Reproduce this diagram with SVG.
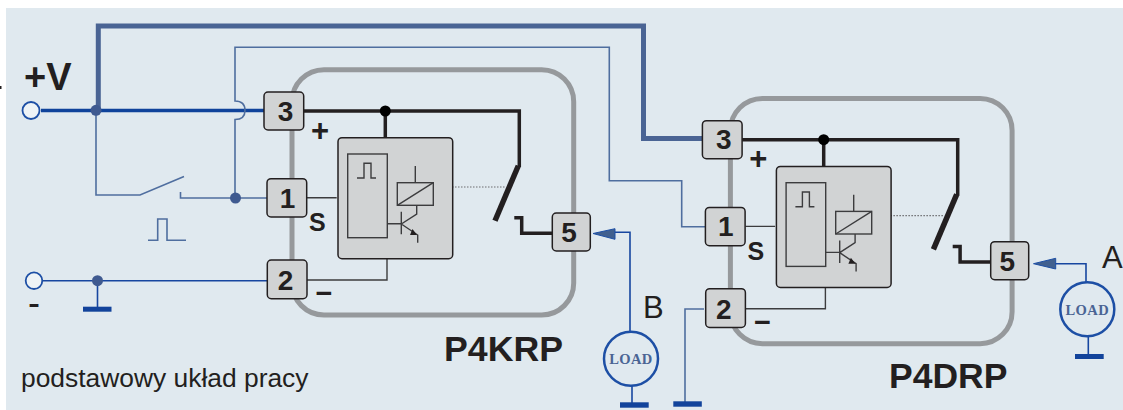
<svg xmlns="http://www.w3.org/2000/svg" width="1123" height="410" viewBox="0 0 1123 410">
<style>
text{font-family:"Liberation Sans",Arial,sans-serif;fill:#231f20}
.b{font-weight:bold}
.n{font-weight:bold;font-size:28px;text-anchor:middle}
.load{font-family:"Liberation Serif","Times New Roman",serif;font-weight:bold;font-size:14.5px;fill:#4a6494;text-anchor:middle;letter-spacing:.4px}
.frame{fill:none;stroke:#96999c;stroke-width:5}
.term{fill:#d1d3d4;stroke:#231f20;stroke-width:1.5}
.inner{fill:#d1d3d4;stroke:#231f20;stroke-width:1.5}
.k{fill:none;stroke:#231f20;stroke-width:3.5}
.t{fill:none;stroke:#3c3c3e;stroke-width:1.4}
.w{fill:none;stroke:#1746a0;stroke-width:1.6}
.s{fill:none;stroke:#4f6e9f;stroke-width:1.6}
.bar{fill:#12439b}
.dot{fill:#3f5a90}
.open{fill:#eef3f6;stroke:#1d4fa5;stroke-width:1.8}
.lc{fill:none;stroke:#1d4fa5;stroke-width:2.5}
.ah{fill:#41608f;stroke:#1d4fa5;stroke-width:1}
</style>
<rect x="6" y="8" width="1117" height="402" fill="#e0e9ef"/>
<rect x="0" y="86" width="1.500" height="3" fill="#231f20"/>
<g id="connectors">
<path d="M98.300 110V26H643.500V138.500H703" fill="none" stroke="#4a6494" stroke-width="5"/>
<path d="M41 110.500H264" fill="none" stroke="#0f439b" stroke-width="3.500"/>
<path class="s" d="M96 110V195H140L184 176.500"/>
<path class="s" d="M180.500 192V198H267"/>
<path class="s" d="M235 198V119.500C243 119.500 245 115 245 110.500C245 106 243 101 235 101V47.300H609.300V180.700H681.700V226.700H706"/>
<path class="s" d="M148 240.300H157.700V219H167V240.300H186"/>
<path class="w" d="M43 280.700H267"/>
<path class="w" d="M97.500 280.700V308"/>
<path class="s" d="M685 403V309H704"/>
<path class="w" d="M630 331V232.300H613"/>
<path class="w" d="M632 386V403"/>
<path class="w" d="M1086 282V263.700H1055"/>
<path class="w" d="M1088.300 336V355"/>
</g>
<g id="plus-v">
<circle class="open" cx="31" cy="110.500" r="8.500"/>
<circle class="dot" cx="96" cy="110.300" r="5.500"/>
<text class="b" x="24" y="90" font-size="38">+V</text>
</g>
<circle id="junction-s" class="dot" cx="235.500" cy="198" r="5.500"/>
<g id="minus-v">
<circle class="open" cx="34" cy="280.700" r="8.300"/>
<circle class="dot" cx="97.500" cy="280.700" r="5.500"/>
<rect class="bar" x="83" y="306.700" width="28.500" height="5"/>
<text x="34" y="314.500" font-size="36" text-anchor="middle">-</text>
</g>
<text id="caption" x="21" y="386.500" font-size="26.400">podstawowy układ pracy</text>
<rect id="ground-2" class="bar" x="673.300" y="401.300" width="28.500" height="5.400"/>
<g id="P4KRP">
<rect class="frame" x="292" y="69.700" width="281.700" height="245.300" rx="32"/>
<path class="k" d="M303 111H519.300V167"/>
<path class="k" d="M385.300 111V138"/>
<circle cx="385.300" cy="111" r="5.500" fill="#000"/>
<path d="M518.300 165.700L495 220.700" fill="none" stroke="#231f20" stroke-width="5.500"/>
<path class="k" d="M514.300 217.700H521.700V233.300H552"/>
<path d="M452 187H506" fill="none" stroke="#6d6e71" stroke-width="1.200" stroke-dasharray="1.500 1.500"/>
<path class="t" d="M307 197.700H336.700M307 280H387V258.700"/>
<rect class="inner" x="338" y="137.700" width="114.700" height="121" rx="4"/>
<rect class="t" x="347.700" y="154" width="39.600" height="83.700"/>
<path class="t" d="M357 178H364V163.300H371V178H376"/>
<rect class="t" x="397.300" y="182.700" width="36" height="22.600"/>
<path class="t" d="M397.300 205.300L433.300 182.700M415.300 166V182.700M416.700 205.300V214L401.300 224M401.300 211.700V234.300M387.300 223.700H401.300M401.300 224L417.700 235V242.700"/>
<path d="M417 235L410 235L412.500 229Z" fill="#231f20"/>
<g id="k-t3"><rect class="term" x="264" y="92" width="39.700" height="38" rx="4"/><text class="n" x="285.500" y="120.500">3</text></g>
<g id="k-t1"><rect class="term" x="267" y="178.700" width="39.700" height="38.300" rx="4"/><text class="n" x="287.500" y="207.500">1</text></g>
<g id="k-t2"><rect class="term" x="267.300" y="260" width="39.700" height="38.700" rx="4"/><text class="n" x="285.500" y="290">2</text></g>
<g id="k-t5"><rect class="term" x="552.300" y="213" width="38" height="38" rx="4"/><text class="n" x="569" y="242">5</text></g>
<text class="b" x="320" y="140.500" font-size="31" text-anchor="middle">+</text>
<text class="b" x="309" y="231" font-size="25">S</text>
<text class="b" x="324" y="303" font-size="29" text-anchor="middle">−</text>
<text class="b" x="444" y="361" font-size="35.700">P4KRP</text>
</g>
<g id="P4DRP">
<g transform="translate(438.400 28.700)">
<rect class="frame" x="292" y="69.700" width="281.700" height="245.300" rx="32"/>
<path class="k" d="M303 111H519.300V167"/>
<path class="k" d="M385.300 111V138"/>
<circle cx="385.300" cy="111" r="5.500" fill="#000"/>
<path d="M518.300 165.700L495 220.700" fill="none" stroke="#231f20" stroke-width="5.500"/>
<path class="k" d="M514.300 217.700H521.700V233.300H552"/>
<path d="M452 187H506" fill="none" stroke="#6d6e71" stroke-width="1.200" stroke-dasharray="1.500 1.500"/>
<path class="t" d="M307 197.700H336.700M307 280H387V258.700"/>
<rect class="inner" x="338" y="137.700" width="114.700" height="121" rx="4"/>
<rect class="t" x="347.700" y="154" width="39.600" height="83.700"/>
<path class="t" d="M357 178H364V163.300H371V178H376"/>
<rect class="t" x="397.300" y="182.700" width="36" height="22.600"/>
<path class="t" d="M397.300 205.300L433.300 182.700M415.300 166V182.700M416.700 205.300V214L401.300 224M401.300 211.700V234.300M387.300 223.700H401.300M401.300 224L417.700 235V242.700"/>
<path d="M417 235L410 235L412.500 229Z" fill="#231f20"/>
<g id="d-t3"><rect class="term" x="264" y="92" width="39.700" height="38" rx="4"/><text class="n" x="285.500" y="120.500">3</text></g>
<g id="d-t1"><rect class="term" x="267" y="178.700" width="39.700" height="38.300" rx="4"/><text class="n" x="287.500" y="207.500">1</text></g>
<g id="d-t2"><rect class="term" x="267.300" y="260" width="39.700" height="38.700" rx="4"/><text class="n" x="285.500" y="290">2</text></g>
<g id="d-t5"><rect class="term" x="552.300" y="213" width="38" height="38" rx="4"/><text class="n" x="569" y="242">5</text></g>
<text class="b" x="320" y="140.500" font-size="31" text-anchor="middle">+</text>
<text class="b" x="309" y="231" font-size="25">S</text>
<text class="b" x="324" y="303" font-size="29" text-anchor="middle">−</text>
</g>
<text class="b" x="889" y="387.700" font-size="35.500">P4DRP</text>
</g>
<g id="load-b">
<circle class="lc" cx="631" cy="358.700" r="27"/>
<text class="load" x="631" y="364">LOAD</text>
<rect class="bar" x="620" y="402.300" width="28.700" height="5.400"/>
<path class="ah" d="M593 233.500L615 228.700V239.300Z"/>
<text x="643" y="317.700" font-size="31">B</text>
</g>
<g id="load-a">
<circle class="lc" cx="1087.300" cy="309.300" r="27"/>
<text class="load" x="1087.300" y="314.500">LOAD</text>
<rect class="bar" x="1075" y="354" width="28.700" height="5"/>
<path class="ah" d="M1033.500 263.700L1055.700 258.300V269Z"/>
<text x="1102" y="268" font-size="31">A</text>
</g>
</svg>
